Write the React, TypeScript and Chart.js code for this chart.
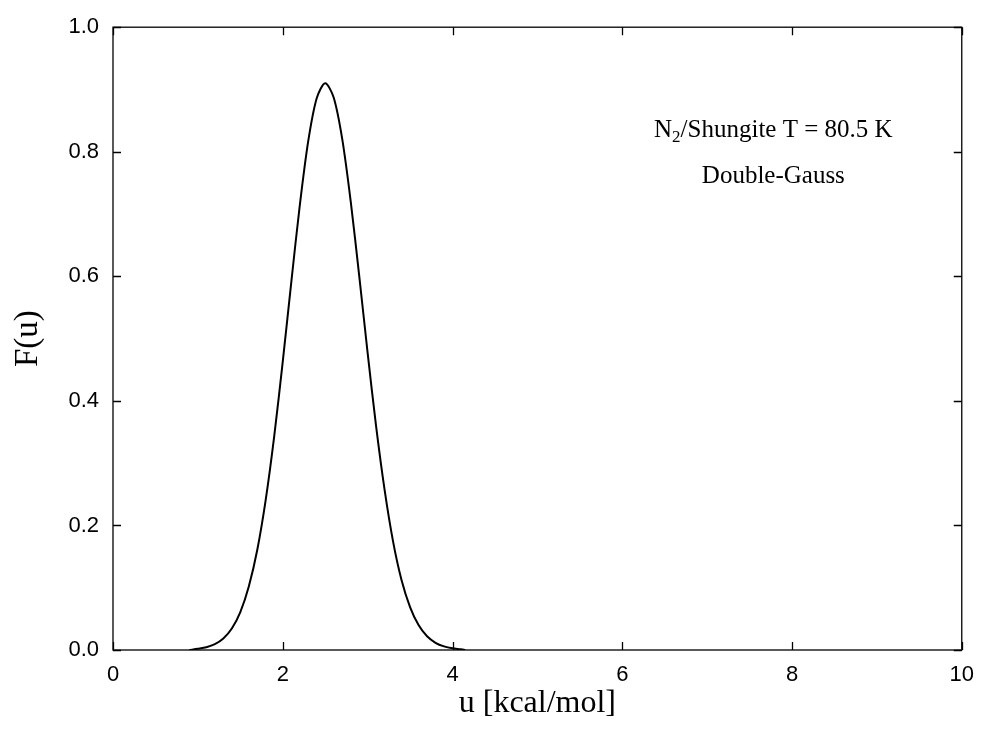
import React, { useEffect, useRef } from "react";
import { Chart, registerables } from "chart.js";

Chart.register(...registerables);

const uValues = [0.9, 1.0, 1.1, 1.2, 1.3, 1.4, 1.5, 1.6, 1.7, 1.8, 1.9, 2.0, 2.1, 2.2, 2.3, 2.4, 2.5, 2.6, 2.7, 2.8, 2.9, 3.0, 3.1, 3.2, 3.3, 3.4, 3.5, 3.6, 3.7, 3.8, 3.9, 4.0, 4.1, 4.15];
const fValues = [0.0, 0.002, 0.0045, 0.0094, 0.0185, 0.0345, 0.061, 0.102, 0.161, 0.242, 0.344, 0.463, 0.59, 0.713, 0.817, 0.886, 0.91, 0.887, 0.821, 0.721, 0.602, 0.477, 0.359, 0.257, 0.174, 0.112, 0.069, 0.04, 0.022, 0.0116, 0.0058, 0.0027, 0.0012, 0.0];

const xTickStep = 2;
const yTickStep = 0.2;
const annotationLine1 = ["N", "2", "/Shungite T = 80.5 K"];
const annotationLine2 = "Double-Gauss";
const xTitle = "u [kcal/mol]";
const yTitle = "F(u)";

const framePlugin = {
  id: "frameTicks",
  afterDraw(chart: any) {
    const { ctx, chartArea: a, scales } = chart;
    const xs = scales.x;
    const ys = scales.y;
    const tl = 8;
    ctx.save();
    ctx.strokeStyle = "#000";
    ctx.lineWidth = 1.3;
    ctx.strokeRect(a.left, a.top, a.right - a.left, a.bottom - a.top);
    ctx.beginPath();
    xs.ticks.forEach((t: any) => {
      const px = Math.round(xs.getPixelForValue(t.value)) + 0.5;
      ctx.moveTo(px, a.bottom);
      ctx.lineTo(px, a.bottom - tl);
      ctx.moveTo(px, a.top);
      ctx.lineTo(px, a.top + tl);
    });
    ys.ticks.forEach((t: any) => {
      const py = Math.round(ys.getPixelForValue(t.value)) + 0.5;
      ctx.moveTo(a.left, py);
      ctx.lineTo(a.left + tl, py);
      ctx.moveTo(a.right, py);
      ctx.lineTo(a.right - tl, py);
    });
    ctx.stroke();

    // annotation text
    const cx = xs.getPixelForValue(7.78);
    const y1 = ys.getPixelForValue(0.835);
    const y2 = ys.getPixelForValue(0.76);
    ctx.fillStyle = "#000";
    ctx.textBaseline = "middle";
    const big = "25px 'Liberation Serif', 'Times New Roman', serif";
    const small = "17px 'Liberation Serif', 'Times New Roman', serif";
    ctx.font = big;
    const w0 = ctx.measureText(annotationLine1[0]).width;
    const w2 = ctx.measureText(annotationLine1[2]).width;
    ctx.font = small;
    const w1 = ctx.measureText(annotationLine1[1]).width;
    let x = cx - (w0 + w1 + w2) / 2;
    ctx.textAlign = "left";
    ctx.font = big;
    ctx.fillText(annotationLine1[0], x, y1);
    x += w0;
    ctx.font = small;
    ctx.fillText(annotationLine1[1], x, y1 + 8);
    x += w1;
    ctx.font = big;
    ctx.fillText(annotationLine1[2], x, y1);
    ctx.textAlign = "center";
    ctx.fillText(annotationLine2, cx, y2);
    ctx.restore();
  },
};

export default function App() {
  const ref = useRef<HTMLCanvasElement | null>(null);
  useEffect(() => {
    if (!ref.current) return;
    const chart = new Chart(ref.current, {
      type: "scatter",
      data: {
        datasets: [
          {
            data: uValues.map((u, i) => ({ x: u, y: fValues[i] })),
            showLine: true,
            borderColor: "#000",
            borderWidth: 2,
            pointRadius: 0,
            tension: 0.3,
            fill: false,
          },
        ],
      },
      options: {
        animation: false,
        responsive: false,
        maintainAspectRatio: false,
        layout: { padding: { top: 24, right: 17, left: 0, bottom: 0 } },
        plugins: { legend: { display: false }, tooltip: { enabled: false } },
        scales: {
          x: {
            type: "linear",
            min: 0,
            max: 10,
            ticks: {
              stepSize: xTickStep,
              padding: 12,
              color: "#000",
              font: { family: "'Liberation Sans', Arial, sans-serif", size: 22 },
            },
            grid: { display: false, drawTicks: false },
            border: { display: false },
            title: {
              display: true,
              text: xTitle,
              color: "#000",
              font: { family: "'Liberation Serif', 'Times New Roman', serif", size: 32 },
              padding: { top: 0, bottom: 14 },
            },
            afterFit: (s: any) => {
              s.height = 87;
            },
          },
          y: {
            type: "linear",
            min: 0,
            max: 1,
            ticks: {
              stepSize: yTickStep,
              padding: 14,
              color: "#000",
              font: { family: "'Liberation Sans', Arial, sans-serif", size: 22 },
              callback: (v: any) => Number(v).toFixed(1),
            },
            grid: { display: false, drawTicks: false },
            border: { display: false },
            title: {
              display: true,
              text: yTitle,
              color: "#000",
              font: { family: "'Liberation Serif', 'Times New Roman', serif", size: 33 },
              padding: { top: 9, bottom: 0 },
            },
            afterFit: (s: any) => {
              s.width = 113;
            },
          },
        },
      },
      plugins: [framePlugin],
    } as any);
    return () => chart.destroy();
  }, []);
  return (
    <div style={{ position: "fixed", left: 0, top: 0, width: 986, height: 737, background: "#fff" }}>
      <canvas ref={ref} width={986} height={737} style={{ width: 986, height: 737 }} />
    </div>
  );
}
